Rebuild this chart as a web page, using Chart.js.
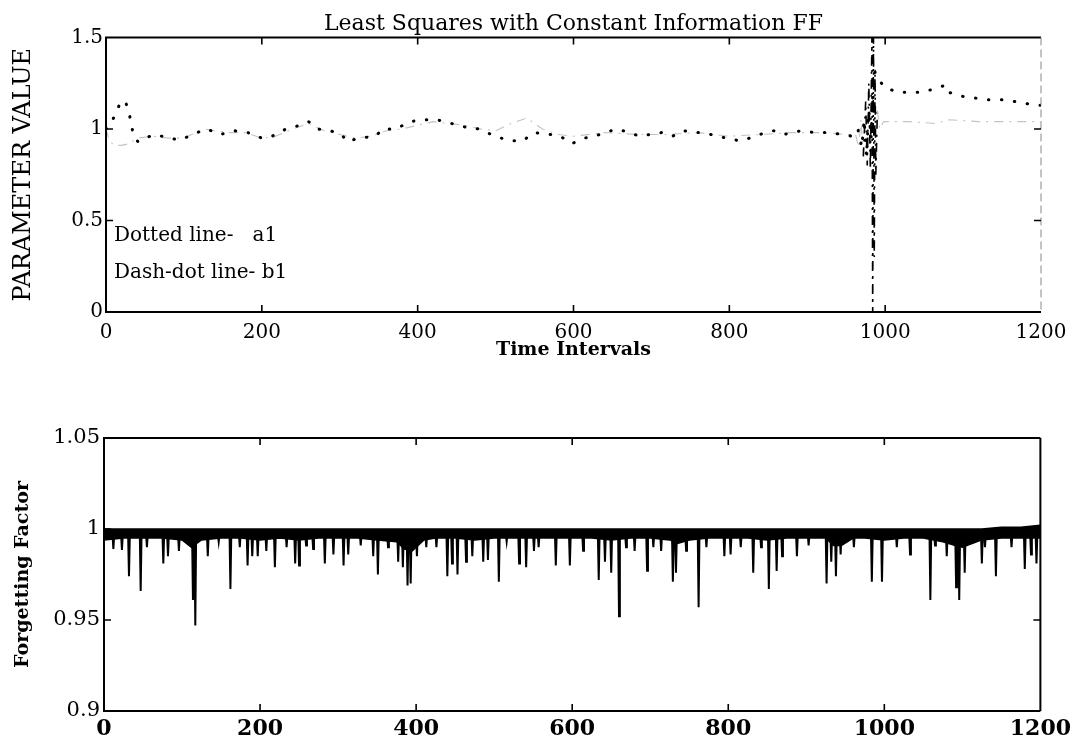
<!DOCTYPE html>
<html><head><meta charset="utf-8">
<script src="https://cdn.jsdelivr.net/npm/chart.js@4.4.1/dist/chart.umd.min.js"></script>
<style>
html,body{margin:0;padding:0;background:#fff;}
#wrap{position:relative;width:1076px;height:746px;overflow:hidden;background:#fff}
canvas{position:absolute;left:0}
</style></head><body>
<div id="wrap">
<canvas id="c1" width="1076" height="380" style="top:0"></canvas>
<canvas id="c2" width="1076" height="366" style="top:380px"></canvas>
</div>
<script>
// ---------- data: top panel (parameter estimates) ----------
const a1T = [0,5,12,19,25,30,35,41,50,63,80,96,111,129,147,165,182,200,213,231,249,260,271,288,302,310,324,346,355,372,390,408,425,443,461,478,500,518,535,549,570,583,598,614,627,640,656,672,685,698,713,727,742,755,768,784,797,813,826,839,857,870,892,910,927,945,958,965,970,973,976,979,982,985,987,998,1016,1029,1047,1064,1078,1082,1096,1113,1131,1149,1166,1179,1193,1200];
const a1V = [1.0,1.02,1.08,1.15,1.15,1.08,0.97,0.93,0.95,0.97,0.95,0.94,0.97,1.0,0.97,0.99,0.98,0.95,0.96,1.0,1.02,1.04,1.0,0.99,0.97,0.93,0.95,0.96,1.0,1.0,1.04,1.05,1.05,1.03,1.01,1.0,0.96,0.935,0.935,0.98,0.97,0.96,0.92,0.95,0.96,0.98,1.0,0.98,0.96,0.97,0.98,0.96,0.99,0.98,0.98,0.96,0.95,0.935,0.95,0.97,0.99,0.97,0.99,0.98,0.98,0.97,0.96,1.0,0.9,1.05,0.85,1.1,0.95,1.3,1.31,1.23,1.2,1.2,1.2,1.22,1.24,1.2,1.18,1.17,1.16,1.16,1.15,1.14,1.13,1.13];
const b1T = [0,4,10,20,30,40,60,80,100,125,140,160,180,200,215,240,260,280,300,320,340,360,380,400,420,440,460,480,500,520,540,560,580,600,640,680,720,760,800,840,880,920,950,962,966,969,972,975,977,979,981,983,984,985,986,987,988,990,993,998,1030,1064,1082,1120,1160,1200];
const b1V = [1.0,0.94,0.91,0.91,0.92,0.95,0.96,0.95,0.95,1.0,0.99,0.98,0.98,0.95,0.955,1.0,1.03,0.99,0.97,0.95,0.96,0.99,1.0,1.02,1.04,1.03,1.02,1.0,0.99,1.03,1.06,1.0,0.97,0.96,0.98,0.97,0.97,0.98,0.96,0.97,0.98,0.98,0.97,0.97,0.9,1.05,0.85,1.15,0.8,1.25,0.78,1.5,0.0,1.5,0.3,1.3,0.75,1.1,1.0,1.04,1.04,1.03,1.05,1.04,1.04,1.04];
const topXTicks = [0,200,400,600,800,1000,1200];
const topXTickLabels = ['0','200','400','600','800','1000','1200'];
const topYTicks = [0,0.5,1,1.5];
const topYTickLabels = ['0','0.5','1','1.5'];
const noteLabels = ['Dotted line-   a1','Dash-dot line- b1'];

// ---------- data: bottom panel (forgetting factor) ----------
const ffSpikeT = [12,23,32,47,55,76,82,96,107,114,117,133,147,162,174,184,190,197,208,219,234,245,250,259,268,283,294,307,313,329,345,351,364,377,383,389,393,401,413,426,440,446,453,464,472,486,492,506,516,532,541,551,557,579,597,614,634,642,650,660,669,680,696,704,714,729,733,746,762,772,795,803,816,832,842,852,862,869,888,903,926,932,938,944,961,984,997,1016,1033,1059,1065,1080,1092,1096,1103,1125,1129,1143,1163,1180,1188,1195];
const ffSpikeMin = [0.989,0.9885,0.974,0.966,0.990,0.981,0.985,0.988,0.996,0.961,0.947,0.985,0.993,0.967,0.990,0.980,0.985,0.985,0.988,0.979,0.990,0.981,0.980,0.991,0.989,0.981,0.986,0.980,0.986,0.991,0.985,0.975,0.990,0.982,0.979,0.969,0.970,0.985,0.990,0.990,0.974,0.981,0.975,0.982,0.985,0.982,0.983,0.971,0.993,0.981,0.979,0.988,0.990,0.980,0.980,0.988,0.972,0.982,0.976,0.952,0.990,0.988,0.977,0.990,0.988,0.971,0.976,0.988,0.957,0.990,0.985,0.986,0.990,0.976,0.990,0.967,0.977,0.985,0.985,0.991,0.970,0.982,0.974,0.986,0.990,0.971,0.971,0.990,0.986,0.961,0.991,0.985,0.968,0.961,0.976,0.981,0.990,0.974,0.990,0.978,0.986,0.981];
const ffSpikeBase = 0.997;
const ffBandT = [0,25,50,75,100,112,125,150,175,200,225,250,275,300,325,350,375,385,395,410,425,450,475,500,525,550,575,600,625,650,675,700,725,735,750,775,800,825,850,875,900,925,935,945,960,975,1000,1025,1050,1075,1090,1100,1125,1150,1175,1200];
const ffBandUpper = [1.0,1.0,1.0,1.0,1.0,1.0,1.0,1.0,1.0,1.0, 1.0,1.0,1.0,1.0,1.0,1.0,1.0,1.0,1.0,1.0, 1.0,1.0,1.0,1.0,1.0,1.0,1.0,1.0,1.0,1.0, 1.0,1.0,1.0,1.0,1.0,1.0,1.0,1.0,1.0,1.0, 1.0,1.0,1.0,1.0,1.0,1.0,1.0,1.0,1.0,1.0, 1.0,1.0,1.0,1.001,1.001,1.002];
const ffBandLower = [0.994,0.995,0.995,0.995,0.994,0.990,0.994,0.995,0.995,0.994, 0.995,0.994,0.995,0.995,0.995,0.994,0.993,0.989,0.988,0.994, 0.995,0.995,0.994,0.995,0.995,0.995,0.995,0.995,0.995,0.994, 0.995,0.995,0.994,0.992,0.994,0.995,0.995,0.995,0.994,0.995, 0.995,0.995,0.991,0.991,0.995,0.995,0.994,0.995,0.995,0.993, 0.991,0.990,0.994,0.995,0.995,0.995];
const ffYTicks = [0.9,0.95,1,1.05];
const ffYTickLabels = ['0.9','0.95','1','1.05'];

// ---------- helpers ----------
const FF = 'DejaVu Serif';
const pts = (xs, ys) => xs.map((x, i) => ({x, y: ys[i]}));
const labelFor = (ticks, labels) => (v) => {
  const i = ticks.findIndex(t => Math.abs(t - v) < 1e-9);
  return i >= 0 ? labels[i] : '';
};
const spikePts = [];
ffSpikeT.forEach((t, i) => {
  spikePts.push({x: t - 1.1, y: ffSpikeBase});
  spikePts.push({x: t, y: ffSpikeMin[i]});
  spikePts.push({x: t + 1.1, y: ffSpikeBase});
});

const framePlugin = {
  id: 'frame',
  afterDatasetsDraw(chart, args, o) {
    const {ctx, chartArea: a} = chart;
    const xs = chart.scales.x, ys = chart.scales.y;
    ctx.save();
    ctx.strokeStyle = '#000';
    ctx.lineWidth = 2;
    ctx.beginPath();
    ctx.moveTo(a.right, a.top); ctx.lineTo(a.left, a.top);
    ctx.lineTo(a.left, a.bottom); ctx.lineTo(a.right, a.bottom);
    ctx.stroke();
    ctx.save();
    if (o.rightDashed) { ctx.setLineDash([8, 4]); ctx.strokeStyle = '#888'; ctx.lineWidth = 1; }
    ctx.beginPath(); ctx.moveTo(a.right, a.top); ctx.lineTo(a.right, a.bottom); ctx.stroke();
    ctx.restore();
    const L = 7;
    ctx.lineWidth = 1.6;
    ctx.beginPath();
    xs.ticks.forEach(t => {
      const p = xs.getPixelForValue(t.value);
      if (p <= a.left + 1 || p >= a.right - 1) return;
      ctx.moveTo(p, a.bottom); ctx.lineTo(p, a.bottom - L);
      ctx.moveTo(p, a.top); ctx.lineTo(p, a.top + L);
    });
    ys.ticks.forEach(t => {
      const p = ys.getPixelForValue(t.value);
      if (p <= a.top + 1 || p >= a.bottom - 1) return;
      ctx.moveTo(a.left, p); ctx.lineTo(a.left + L, p);
      ctx.moveTo(a.right, p); ctx.lineTo(a.right - L, p);
    });
    ctx.stroke();
    if (o.notes) {
      ctx.fillStyle = '#000';
      ctx.font = o.noteFont;
      ctx.textBaseline = 'middle';
      o.notes.forEach(n => ctx.fillText(n.text, a.left + n.dx, ys.getPixelForValue(n.y)));
    }
    ctx.restore();
  }
};

// ---------- top chart ----------
new Chart(document.getElementById('c1'), {
  type: 'line',
  data: {
    datasets: [
      {label: 'a1', data: pts(a1T, a1V), borderColor: '#000', borderWidth: 3,
       borderDash: [0.5, 12.5], borderCapStyle: 'round', pointRadius: 0, tension: 0},
      {label: 'b1', data: pts(b1T, b1V), borderColor: '#c4c4c4', borderWidth: 1.1,
       borderDash: [9, 6, 2, 6], pointRadius: 0, tension: 0,
       segment: {
         borderColor: c => Math.abs(c.p1.parsed.y - c.p0.parsed.y) > 0.25 ? '#000' : undefined,
         borderWidth: c => Math.abs(c.p1.parsed.y - c.p0.parsed.y) > 0.25 ? 1.6 : undefined
       }}
    ]
  },
  options: {
    responsive: false, animation: false, events: [],
    layout: {padding: {left: 0, right: 35, top: 0, bottom: 0}},
    plugins: {
      legend: {display: false}, tooltip: {enabled: false},
      title: {display: true, text: 'Least Squares with Constant Information FF', fullSize: false,
              color: '#000', font: {family: FF, size: 22, weight: 'normal'}, padding: {top: 11, bottom: 0}},
      frame: {rightDashed: true, noteFont: '20px "DejaVu Serif"',
              notes: [{text: noteLabels[0], dx: 8, y: 0.418}, {text: noteLabels[1], dx: 8, y: 0.212}]}
    },
    scales: {
      x: {type: 'linear', min: 0, max: 1200,
          afterBuildTicks: s => { s.ticks = topXTicks.map(v => ({value: v})); },
          afterFit: s => { s.height = 68; },
          grid: {display: false, drawTicks: false}, border: {display: false},
          ticks: {color: '#000', font: {family: FF, size: 20}, padding: 9, maxRotation: 0, autoSkip: false,
                  callback: labelFor(topXTicks, topXTickLabels)},
          title: {display: true, text: 'Time Intervals', color: '#000',
                  font: {family: FF, size: 19, weight: 'bold'}, padding: {top: 0, bottom: 19}}},
      y: {type: 'linear', min: 0, max: 1.5,
          afterBuildTicks: s => { s.ticks = topYTicks.map(v => ({value: v})); },
          afterFit: s => { s.width = 106; },
          grid: {display: false, drawTicks: false}, border: {display: false},
          ticks: {color: '#000', font: {family: FF, size: 20}, padding: 3,
                  callback: labelFor(topYTicks, topYTickLabels)},
          title: {display: true, text: 'PARAMETER VALUE', color: '#000',
                  font: {family: FF, size: 24}, padding: {top: 9, bottom: 0}}}
    }
  },
  plugins: [framePlugin]
});

// ---------- bottom chart ----------
new Chart(document.getElementById('c2'), {
  type: 'line',
  data: {
    datasets: [
      {label: 'band top', data: pts(ffBandT, ffBandUpper), borderColor: '#000', borderWidth: 1.5,
       backgroundColor: '#000', fill: '+1', pointRadius: 0, tension: 0},
      {label: 'band bottom', data: pts(ffBandT, ffBandLower), borderColor: '#000', borderWidth: 1.5,
       pointRadius: 0, tension: 0, fill: false},
      {label: 'Forgetting Factor', data: spikePts, borderColor: '#000', borderWidth: 2,
       pointRadius: 0, tension: 0, fill: false}
    ]
  },
  options: {
    responsive: false, animation: false, events: [],
    layout: {padding: {left: 0, right: 34, top: 58, bottom: 0}},
    plugins: {
      legend: {display: false}, tooltip: {enabled: false},
      frame: {rightDashed: false}
    },
    scales: {
      x: {type: 'linear', min: 0, max: 1200,
          afterBuildTicks: s => { s.ticks = topXTicks.map(v => ({value: v})); },
          afterFit: s => { s.height = 35; },
          grid: {display: false, drawTicks: false}, border: {display: false},
          ticks: {color: '#000', font: {family: FF, size: 22, weight: 'bold'}, padding: 5, maxRotation: 0, autoSkip: false,
                  callback: labelFor(topXTicks, topXTickLabels)}},
      y: {type: 'linear', min: 0.9, max: 1.05,
          afterBuildTicks: s => { s.ticks = ffYTicks.map(v => ({value: v})); },
          afterFit: s => { s.width = 104; },
          grid: {display: false, drawTicks: false}, border: {display: false},
          ticks: {color: '#000', font: {family: FF, size: 21}, padding: 4,
                  callback: labelFor(ffYTicks, ffYTickLabels)},
          title: {display: true, text: 'Forgetting Factor', color: '#000',
                  font: {family: FF, size: 19, weight: 'bold'}, padding: {top: 12, bottom: 0}}}
    }
  },
  plugins: [framePlugin]
});
</script>
</body></html>
